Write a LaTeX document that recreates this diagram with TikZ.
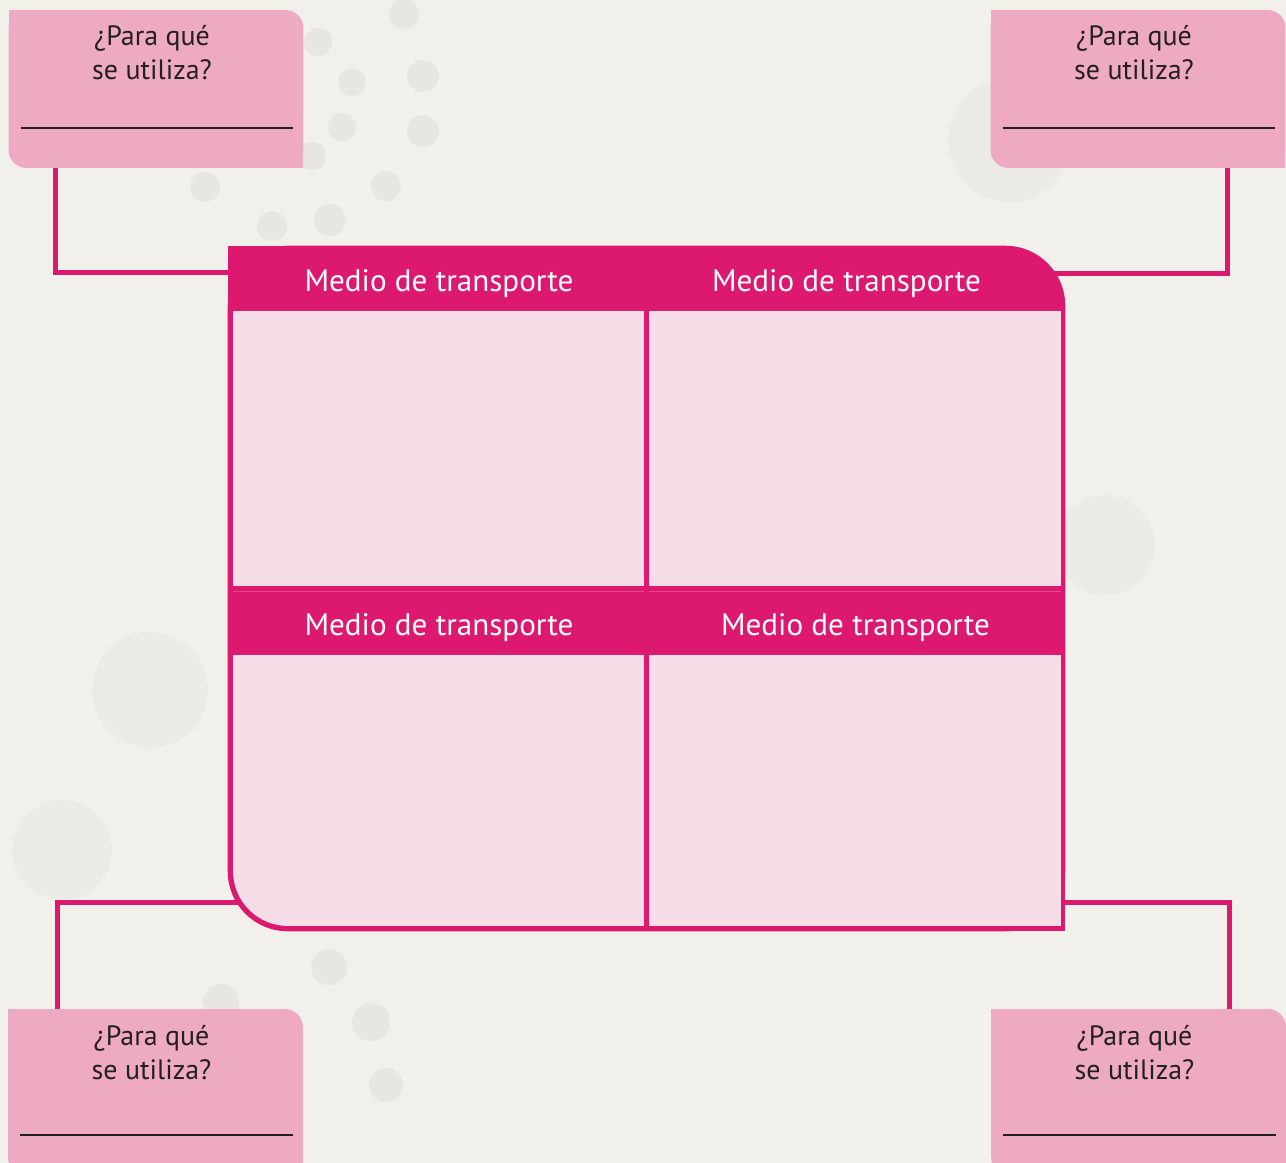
\documentclass[tikz,border=0pt]{standalone}
\usepackage{fontspec}
\setmainfont{PT Sans}
\usetikzlibrary{positioning}
\usepackage{xcolor}

\definecolor{fondo}{HTML}{F1F0EA}
\definecolor{manchas}{HTML}{E8E6E0}
\definecolor{rosaFuerte}{HTML}{DD186F}
\definecolor{rosaCaja}{HTML}{EEAAC2}
\definecolor{rosaCelda}{HTML}{F7DDE7}
\definecolor{rosaTenue}{HTML}{E5478B}
\definecolor{tinta}{HTML}{231F20}

\begin{document}
\begin{tikzpicture}[x=0.02cm,y=-0.02cm]

\tikzset{caja/.style = {minimum width=5.9cm, minimum height=3.16cm, inner sep=0pt,
  path picture={
    \fill[rosaCaja, rounded corners=0.36cm] (path picture bounding box.south west) rectangle (path picture bounding box.north east);
    \fill[rosaCaja] (path picture bounding box.north west) rectangle ++(0.5cm,-0.5cm);
    \fill[rosaCaja] (path picture bounding box.south east) rectangle ++(-0.5cm,0.5cm);
    \draw[tinta, line width=1.1pt] ([shift={(0.24cm,0.8cm)}]path picture bounding box.south west) -- ([shift={(-0.2cm,0.8cm)}]path picture bounding box.south east);}}}
\tikzset{pregunta/.style = {align=center, inner sep=0pt, text=tinta, xshift=-0.08cm, font=\fontsize{15.9}{19.3}\selectfont}}
\tikzset{celda/.style = {fill=rosaCelda, minimum width=8.22cm, minimum height=5.5cm, inner sep=0pt}}
\tikzset{celdaCurva/.style = {minimum width=8.22cm, minimum height=5.42cm, inner sep=0pt,
  path picture={
    \fill[rosaCelda, rounded corners=1.1cm] (path picture bounding box.south west) rectangle (path picture bounding box.north east);
    \fill[rosaCelda] (path picture bounding box.north west) rectangle ++(1.3cm,-1.3cm);
    \fill[rosaCelda] (path picture bounding box.north east) rectangle ++(-1.3cm,-1.3cm);
    \fill[rosaCelda] (path picture bounding box.south east) rectangle ++(-1.3cm,1.3cm);}}}
\tikzset{titulo/.style = {text=white, inner sep=0pt, anchor=base, font=\fontsize{17.7}{20}\selectfont}}
\tikzset{conector/.style = {draw=rosaFuerte, line width=0.1cm}}

% fondo
\fill[fondo] (0,0) rectangle (1286,1163);
\useasboundingbox (0,0) rectangle (1286,1163);
\foreach \x/\y/\r in {404/14/15, 318/42/14, 352/82/14, 423/76/16, 342/127/14, 423/131/16,
  312/156/14, 386/186/15, 205/187/15, 272/226/15, 330/220/16, 329/967/18, 371/1022/19,
  386/1085/17, 221/1002/18}
  \fill[manchas] (\x,\y) circle[radius=\r];
\fill[manchas!60!fondo] (150,690) circle[radius=58];
\fill[manchas!60!fondo] (62,850) circle[radius=50];
\fill[manchas!60!fondo] (1010,140) circle[radius=62];
\fill[manchas!60!fondo] (1105,545) circle[radius=50];

% cajas de preguntas
\node[caja] (q1) at (156,89) {};
\node[caja] (q2) at (1138,89) {};
\node[caja, minimum height=3.32cm] (q3) at (155.5,1092) {};
\node[caja, minimum height=3.32cm] (q4) at (1138.5,1092) {};

\node[minimum width=16.74cm, minimum height=13.7cm, inner sep=0pt] (tabla) at (646.5,588.5) {};

%conectores
\draw[conector] ([xshift=0.94cm]q1.south west) |- ([shift={(1cm,-0.54cm)}]tabla.north west);
\draw[conector] ([xshift=-1.17cm]q2.south east) |- ([shift={(-1cm,-0.56cm)}]tabla.north east);
\draw[conector] ([shift={(1cm,0.58cm)}]tabla.south west) -| ([xshift=1.0cm]q3.north west);
\draw[conector] ([shift={(-1cm,0.58cm)}]tabla.south east) -| ([xshift=-1.14cm]q4.north east);

% tabla
\fill[rosaFuerte, rounded corners=1.2cm] (tabla.south west) rectangle (tabla.north east);
\fill[rosaFuerte] (tabla.north west) rectangle ++(1.5cm,-1.5cm);
\fill[rosaFuerte] (tabla.south east) rectangle ++(-1.5cm,1.5cm);

\node[celda] (c1) at (438.5,448.5) {};
\node[celda, minimum width=8.24cm] (c2) at (855,448.5) {};
\node[celdaCurva] (c3) at (438.5,790.5) {};
\node[celda, minimum width=8.24cm, minimum height=5.42cm] (c4) at (855,790.5) {};
\draw[rosaTenue, line width=0.6pt] ([yshift=-0.1cm]c1.south west) -- ([yshift=-0.1cm]c1.south east);
\draw[rosaTenue, line width=0.6pt] ([yshift=-0.1cm]c2.south west) -- ([yshift=-0.1cm]c2.south east);

\node[titulo] (h1) at (439,291) {Medio de transporte};
\node[titulo] (h2) at (846.5,291) {Medio de transporte};
\node[titulo] (h3) at (439,635) {Medio de transporte};
\node[titulo] (h4) at (855.5,635) {Medio de transporte};

\node[pregunta, below=0.3cm of q1.north] (p1) {¿Para qué\\se utiliza?};
\node[pregunta, below=0.3cm of q2.north] (p2) {¿Para qué\\se utiliza?};
\node[pregunta, below=0.32cm of q3.north] (p3) {¿Para qué\\se utiliza?};
\node[pregunta, below=0.32cm of q4.north] (p4) {¿Para qué\\se utiliza?};
\end{tikzpicture}
\end{document}
